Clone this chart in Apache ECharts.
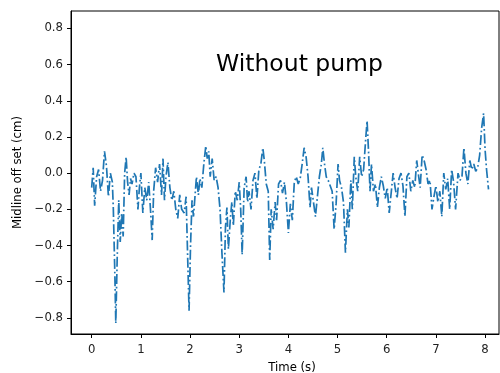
<!DOCTYPE html>
<html>
<head>
<meta charset="utf-8">
<script src="https://cdn.jsdelivr.net/npm/echarts@6/dist/echarts.min.js"></script>
<style>html,body{margin:0;padding:0;background:#fff;}#c{width:500px;height:373px;}</style>
</head>
<body>
<div id="c"></div>
<script>
var times = [0.00,0.03,0.06,0.10,0.14,0.18,0.22,0.26,0.30,0.34,0.38,0.42,0.44,0.47,0.49,0.52,0.55,0.58,0.61,0.64,0.67,0.70,0.73,0.76,0.79,0.82,0.86,0.90,0.94,0.97,1.00,1.04,1.08,1.12,1.16,1.20,1.23,1.26,1.30,1.34,1.38,1.42,1.45,1.48,1.51,1.55,1.59,1.63,1.67,1.71,1.75,1.79,1.83,1.88,1.92,1.95,1.98,2.01,2.04,2.07,2.10,2.13,2.17,2.20,2.24,2.28,2.32,2.35,2.38,2.41,2.45,2.49,2.53,2.57,2.61,2.65,2.69,2.72,2.75,2.78,2.82,2.85,2.88,2.92,2.96,3.00,3.03,3.06,3.10,3.14,3.17,3.20,3.24,3.28,3.32,3.36,3.40,3.44,3.48,3.51,3.55,3.59,3.62,3.65,3.69,3.73,3.76,3.80,3.84,3.88,3.92,3.96,4.00,4.04,4.08,4.12,4.16,4.20,4.24,4.28,4.32,4.36,4.40,4.44,4.47,4.51,4.55,4.59,4.63,4.67,4.70,4.73,4.77,4.81,4.85,4.89,4.93,4.97,5.01,5.04,5.08,5.12,5.16,5.20,5.23,5.27,5.30,5.34,5.37,5.41,5.45,5.49,5.53,5.57,5.60,5.63,5.66,5.69,5.73,5.77,5.81,5.85,5.89,5.93,5.97,6.01,6.05,6.09,6.13,6.17,6.21,6.25,6.29,6.33,6.37,6.41,6.45,6.49,6.53,6.57,6.61,6.65,6.68,6.72,6.76,6.80,6.84,6.88,6.92,6.96,7.00,7.04,7.08,7.12,7.16,7.20,7.24,7.28,7.32,7.36,7.40,7.45,7.49,7.53,7.57,7.61,7.65,7.69,7.73,7.77,7.81,7.85,7.89,7.93,7.97,8.00,8.03,8.07];
var offsets = [-0.08,0.03,-0.18,-0.02,0.02,-0.10,-0.04,0.12,0.04,-0.13,0.00,-0.05,-0.20,-0.55,-0.83,-0.45,-0.15,-0.38,-0.22,-0.35,0.00,0.09,-0.05,-0.12,-0.03,-0.06,0.00,-0.02,-0.20,-0.08,0.00,-0.22,-0.08,-0.15,-0.05,-0.22,-0.37,-0.10,0.03,-0.05,0.05,-0.12,0.08,-0.15,-0.02,0.06,-0.08,-0.15,-0.10,-0.20,-0.25,-0.12,-0.20,-0.22,-0.13,-0.45,-0.76,-0.40,-0.15,-0.24,-0.13,-0.02,-0.12,-0.03,-0.08,0.05,0.15,0.08,0.12,-0.02,0.08,-0.04,-0.02,-0.08,-0.20,-0.45,-0.66,-0.30,-0.19,-0.42,-0.25,-0.16,-0.29,-0.10,-0.15,-0.05,-0.20,-0.45,-0.08,-0.02,-0.16,-0.10,-0.20,-0.04,0.00,-0.14,0.02,0.05,0.14,0.07,-0.06,-0.10,-0.48,-0.20,-0.31,-0.16,-0.26,-0.06,-0.04,-0.11,-0.05,-0.16,-0.33,-0.17,-0.26,-0.05,-0.02,-0.06,-0.03,0.05,0.14,0.09,-0.02,-0.19,-0.08,-0.08,-0.24,-0.13,-0.02,0.05,0.14,0.06,-0.02,-0.04,-0.07,-0.10,-0.31,-0.17,0.05,-0.04,-0.08,-0.16,-0.44,-0.20,-0.30,-0.04,-0.20,0.09,-0.02,-0.10,0.09,-0.02,0.02,0.18,0.29,0.12,-0.10,0.05,-0.10,-0.06,-0.19,-0.08,-0.02,-0.07,-0.14,-0.08,-0.22,-0.11,0.00,-0.08,-0.14,-0.03,0.00,-0.07,-0.24,-0.02,0.00,-0.10,-0.04,-0.08,0.07,-0.02,-0.08,0.10,0.07,0.02,-0.06,-0.04,-0.20,-0.13,-0.07,-0.16,-0.10,-0.24,0.00,-0.09,-0.03,-0.20,0.02,-0.05,-0.20,0.00,-0.04,-0.02,0.14,0.00,-0.06,0.07,0.02,0.05,0.01,0.03,0.10,0.25,0.33,0.13,0.02,-0.09];
var xTicks = [0,1,2,3,4,5,6,7,8];
var yTicks = [-0.8,-0.6,-0.4,-0.2,0.0,0.2,0.4,0.6,0.8];
var titleText = "Without pump";
var xLabel = "Time (s)";
var yLabel = "Midline off set (cm)";

var seriesData = times.map(function(t,i){return [t, offsets[i]];});
var font = "DejaVu Sans";
var chart = echarts.init(document.getElementById('c'), null, {renderer:'canvas'});
chart.setOption({
  animation:false,
  backgroundColor:'#fff',
  grid:{left:71,right:1,top:11,bottom:39,show:true,borderColor:'#000',borderWidth:1,backgroundColor:'transparent',containLabel:false,outerBoundsMode:'none'},
  xAxis:{
    type:'value',min:-0.421,max:8.283,
    name:xLabel,nameLocation:'middle',nameGap:28,
    nameTextStyle:{fontFamily:font,fontSize:11.7,color:'#000',padding:[0,0,0,14]},
    axisLine:{show:true,onZero:false,lineStyle:{color:'#000',width:1}},
    axisTick:{show:true,inside:false,length:4,lineStyle:{color:'#000'},customValues:xTicks},
    axisLabel:{fontFamily:font,fontSize:11.7,color:'#222',margin:10,customValues:xTicks,
      formatter:function(v){return String(v).replace('-','\u2212');}},
    splitLine:{show:false}
  },
  yAxis:{
    type:'value',min:-0.889,max:0.896,
    name:yLabel,nameLocation:'middle',nameGap:36,
    nameTextStyle:{fontFamily:font,fontSize:11.7,color:'#000'},
    axisLine:{show:true,onZero:false,lineStyle:{color:'#000',width:1}},
    axisTick:{show:true,inside:false,length:4,lineStyle:{color:'#000'},customValues:yTicks},
    axisLabel:{fontFamily:font,fontSize:11.7,color:'#222',margin:8,customValues:yTicks,
      formatter:function(v){return v.toFixed(1).replace('-','\u2212');}},
    splitLine:{show:false}
  },
  graphic:[{type:'text',left:216,top:53,style:{text:titleText,font:'23.5px "DejaVu Sans"',fill:'#000'}}],
  series:[{
    type:'line',data:seriesData,showSymbol:false,symbol:'none',
    lineStyle:{color:'#1f77b4',width:1.7,type:[10,2.8,1.7,2.8]},
    z:3
  }]
});
</script>
</body>
</html>
